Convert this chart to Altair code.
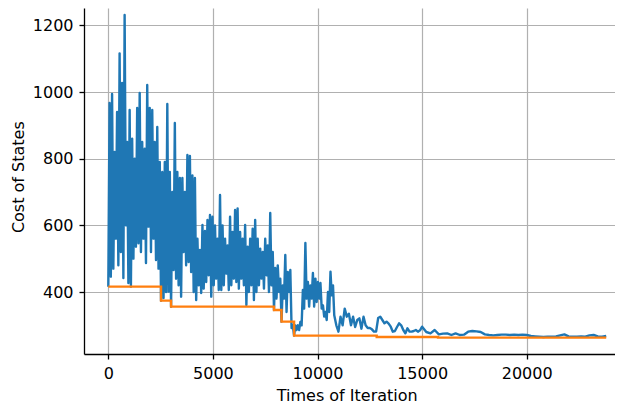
import altair as alt
import pandas as pd

# Dense noisy phase, iterations 0..10800 sampled every 60:
# troughs at 0, 120, 240, ... ; crests at 60, 180, 300, ...
seg_a_lo = [
    416, 446, 470, 560, 480, 520, 442, 600, 427, 416,
    500, 536, 546, 520, 560, 487, 596, 520, 560, 496,
    470, 374, 382, 400, 401, 356, 466, 440, 420, 386,
    520, 480, 490, 460, 400, 376, 420, 397, 410, 430,
    450, 386, 420, 440, 406, 406, 420, 455, 406, 420,
    440, 430, 410, 440, 420, 361, 400, 420, 376, 400,
    420, 440, 410, 450, 400, 420, 346, 380, 400, 311,
    380, 340, 400, 292, 269, 286,
    286, 300, 350, 380, 356, 380, 356, 370, 380, 350,
    326, 316, 340, 390, 330,
]
seg_a_hi = [
    967, 994, 820, 940, 1116, 1027, 1231, 850, 946, 860,
    800, 952, 997, 850, 830, 1021, 952, 946, 850, 895,
    790, 760, 790, 964, 760, 700, 907, 760, 742, 742,
    700, 811, 808, 750, 742, 560, 526, 601, 583, 616,
    631, 626, 600, 560, 691, 600, 560, 540, 626, 580,
    646, 651, 580, 560, 601, 536, 560, 590, 616, 560,
    530, 520, 560, 540, 637, 520, 472, 480, 440, 420,
    511, 460, 466, 300, 300,
    300, 310, 406, 547, 430, 420, 457, 440, 430, 427,
    360, 340, 400, 461, 420,
]
# Calmer phase, iterations 10900..15000 (every 100)
seg_b_cost = [
    300, 281, 326, 300, 350, 326, 335, 300, 326, 295, 316, 321,
    290, 326, 300, 292, 292, 288, 281, 281, 322, 326,
    316, 306, 311, 305, 296, 281, 283, 295, 306, 300,
    286, 276, 291, 281, 281, 283, 286, 281, 285, 296,
]
# Converged phase, iterations 15200..23800 (every 200)
seg_c_cost = [
    280, 276, 286, 273, 275, 276, 271, 276, 271, 272,
    281, 283, 282, 280, 273, 271, 270, 271, 272, 272,
    271, 272, 271, 272, 271, 268, 267, 266, 265, 266,
    266, 267, 270, 273, 267, 266, 266, 267, 266, 270,
    271, 267, 266, 268,
]

seg_a = []
for i, lo in enumerate(seg_a_lo):
    seg_a.append(lo)
    if i < len(seg_a_hi):
        seg_a.append(seg_a_hi[i])

iters = (list(range(0, 10801, 60)) + list(range(10900, 15001, 100))
         + list(range(15200, 23801, 200)))
cost = seg_a + seg_b_cost + seg_c_cost

best_iters = [0, 2520, 3000, 7920, 8280, 8880, 12830, 15760, 23800]
best_cost = [416, 374, 356, 346, 311, 269, 265, 263, 263]

x_ticks = [0, 5000, 10000, 15000, 20000]
y_ticks = [400, 600, 800, 1000, 1200]

cur = pd.DataFrame({"it": iters, "cost": cost})
best = pd.DataFrame({"it": best_iters, "cost": best_cost})

x = alt.X(
    "it:Q",
    scale=alt.Scale(domain=[-1162, 24220], nice=False, zero=False),
    axis=alt.Axis(
        values=x_ticks, title="Times of Iteration", format="d",
        labelBaseline="alphabetic", labelPadding=19,
        titleX=262.7, titleY=46, titleBaseline="alphabetic", titleAlign="center",
    ),
)
y = alt.Y(
    "cost:Q",
    scale=alt.Scale(domain=[214, 1252], nice=False, zero=False),
    axis=alt.Axis(
        values=y_ticks, title="Cost of States", format="d",
        labelPadding=6,
        titleX=-60.7, titleY=168.7, titleAngle=270,
        titleBaseline="alphabetic", titleAlign="center",
    ),
)

blue = alt.Chart(cur).mark_line(
    color="#1f77b4", strokeWidth=2.4, strokeJoin="round", clip=True
).encode(x=x, y=y)
orange = alt.Chart(best).mark_line(
    color="#ff7f0e", strokeWidth=2.4, interpolate="step-after", clip=True
).encode(x=x, y=y)

chart = (
    alt.layer(blue, orange)
    .properties(
        width=531, height=346,
        padding={"left": 76, "top": 0, "right": 0, "bottom": 50},
        autosize=alt.AutoSizeParams(type="none"),
    )
    .configure_view(strokeWidth=0)
    .configure_axis(
        domainColor="black", domainWidth=1.3,
        tickColor="black", tickWidth=1.3, tickSize=5,
        gridColor="#b0b0b0", gridWidth=1.2,
        labelFont="DejaVu Sans", labelFontSize=16, labelColor="black",
        titleFont="DejaVu Sans", titleFontSize=16, titleFontWeight="normal",
        titleColor="black",
    )
)

chart.save("out.html", embed_options={"renderer": "svg", "actions": False})
